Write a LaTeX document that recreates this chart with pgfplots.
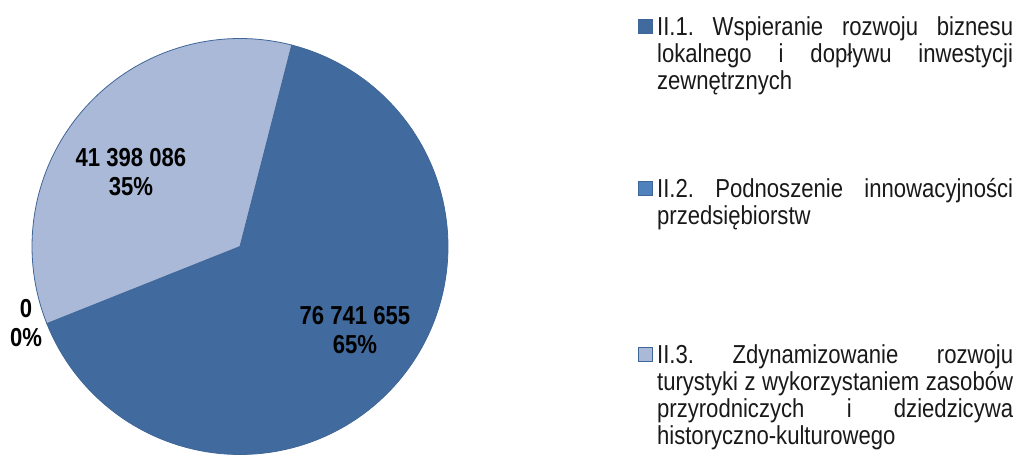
\documentclass[border=0pt]{standalone}
\usepackage{fontspec}
\setmainfont{Liberation Sans}[FakeStretch=0.85]
\usepackage{pgfplots}
\pgfplotsset{compat=1.18}
\definecolor{sliceA}{HTML}{416A9E}
\definecolor{sliceB}{HTML}{4F81BD}
\definecolor{sliceC}{HTML}{AAB9D7}
\definecolor{rim}{HTML}{3F6698}
\frenchspacing

% values in millions PLN, slices run clockwise from the first-slice angle
\def\valA{76.741655}
\def\valB{0}
\def\valC{41.398086}
\def\startang{75.6}
\pgfmathsetmacro\tot{\valA+\valB+\valC}
\pgfmathsetmacro\endA{\startang-360*(\valA/\tot)}
\pgfmathsetmacro\endB{\endA-360*(\valB/\tot)}
\pgfmathsetmacro\endC{\endB-360*(\valC/\tot)}

\newcommand\entry[2]{\parbox[t]{356pt}{\fontsize{26pt}{27pt}\selectfont
  \frenchspacing\hyphenpenalty=10000\exhyphenpenalty=10000\tolerance=10000
  \rule{0pt}{20pt}#1\rule[-#2pt]{0pt}{0pt}}}

\begin{document}
\begin{tikzpicture}
\begin{axis}[
    width=1014pt, height=459pt,
    scale only axis,
    xmin=0, xmax=1014, ymin=0, ymax=459,
    hide axis,
    clip=false,
    legend image code/.code={\draw[#1, draw=rim, line width=0.9pt] (0pt,1.5pt) rectangle (14pt,15.5pt);},
    legend style={at={(axis cs:638,444)}, anchor=north west,
      draw=none, fill=none, inner sep=0pt, column sep=4pt, row sep=0pt,
      nodes={inner sep=0pt, text depth=}, cells={anchor=base west},
      text=black!90},
]
\addplot[fill=sliceA, draw=rim, line width=0.8pt, domain=\endA:\startang, samples=120, variable=\t]
  ({240+208*cos(\t)}, {212.5+208*sin(\t)}) -- (axis cs:240,212.5) -- cycle;
\addlegendentry{\entry{II.1. Wspieranie rozwoju biznesu\linebreak lokalnego i dopływu inwestycji\linebreak zewnętrznych}{88}}
\addlegendimage{fill=sliceB}
\addlegendentry{\entry{II.2. Podnoszenie innowacyjności\linebreak przedsiębiorstw}{119}}
\addplot[fill=sliceC, draw=rim, line width=0.8pt, domain=\endC:\endB, samples=80, variable=\t]
  ({240+208*cos(\t)}, {212.5+208*sin(\t)}) -- (axis cs:240,212.5) -- cycle;
\addlegendentry{\entry{II.3. Zdynamizowanie rozwoju\linebreak turystyki z wykorzystaniem zasobów\linebreak przyrodniczych i dziedzicywa\linebreak historyczno-kulturowego}{6}}

\node[font=\fontsize{26pt}{29pt}\selectfont\bfseries, align=center] at (axis cs:131,287) {41 398 086\\35\%};
\node[font=\fontsize{26pt}{29pt}\selectfont\bfseries, align=center] at (axis cs:355,129) {76 741 655\\65\%};
\node[font=\fontsize{26pt}{29pt}\selectfont\bfseries, align=center] at (axis cs:26,136) {0\\0\%};
\end{axis}
\pgfresetboundingbox
\path[use as bounding box] (current axis.south west) rectangle (current axis.north east);
\end{tikzpicture}
\end{document}
